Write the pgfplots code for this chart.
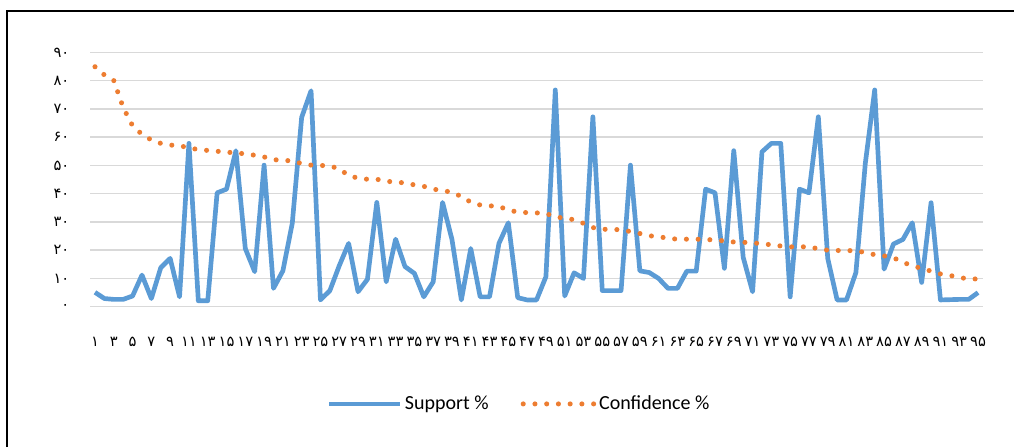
\documentclass[border=0pt]{standalone}
\usepackage{fontspec}
\setmainfont{Carlito}
\newfontfamily\fa[Script=Arabic]{DejaVu Sans}
\usepackage{pgfplots}
\usepackage{pgfplotstable}
\pgfplotsset{compat=1.18}
\definecolor{sblue}{HTML}{5B9BD5}
\definecolor{corange}{HTML}{ED7D31}
\definecolor{gridgray}{HTML}{D9D9D9}

\pgfplotstableread{
i s c
1 5.1 84.9
2 2.9 82
3 2.6 80
4 2.6 70.5
5 3.8 64
6 11.2 61
7 2.9 59
8 13.8 57.8
9 17.1 57.2
10 3.5 57
11 57.8 56.2
12 2.1 55.6
13 2.1 55.3
14 40.3 55
15 41.6 54.7
16 55.2 54.4
17 20.6 54.1
18 12.4 53.6
19 50.1 53
20 6.5 52
21 12.7 51.9
22 29.5 51.5
23 67 50.7
24 76.4 50.1
25 2.4 50
26 5.7 49.8
27 14.5 48.8
28 22.4 46.4
29 5.3 45.5
30 9.7 45.1
31 36.9 45.1
32 8.8 44.4
33 23.9 44.1
34 14.2 43.8
35 11.8 43.1
36 3.5 42.6
37 8.8 41.6
38 36.9 41.1
39 23.8 40.5
40 2.4 39
41 20.6 37
42 3.5 36
43 3.5 35.7
44 22.4 35.5
45 29.7 34.2
46 3.2 33.5
47 2.4 33.3
48 2.4 33.2
49 10.6 33
50 76.7 31.8
51 3.8 31.3
52 12 30.8
53 10 29.5
54 67.2 28
55 5.7 27.4
56 5.7 27.4
57 5.7 27.2
58 50.1 26.6
59 12.7 25.9
60 12.1 25.1
61 10 24.8
62 6.5 24.2
63 6.5 23.9
64 12.6 23.9
65 12.6 23.9
66 41.6 23.8
67 40.3 23.6
68 13.6 23.3
69 55.2 22.9
70 17.5 22.8
71 5.3 22.6
72 54.8 22.3
73 57.8 21.9
74 57.8 21.5
75 3.5 21.2
76 41.6 21.2
77 40.3 21.2
78 67.2 20.5
79 17.1 20
80 2.4 19.9
81 2.4 19.9
82 12.1 19.8
83 50.7 19.2
84 76.7 18.4
85 13.3 18
86 22.2 17.3
87 23.8 15.8
88 29.7 14.4
89 8.6 13.6
90 36.8 12.6
91 2.4 11.6
92 2.5 11.1
93 2.6 10.3
94 2.6 9.9
95 5 9.8
}\datatable

\begin{document}
\begin{tikzpicture}[x=0.75pt,y=0.75pt]
\useasboundingbox (0,0) rectangle (1014,447);
\draw[line width=1.6pt] (7,0) -- (7,436) -- (1014,436);
\begin{axis}[
    at={(67.5pt,105.2pt)}, anchor=south west,
    scale only axis, width=669.75pt, height=190.8pt,
    xmin=0.468, xmax=95.53, ymin=0, ymax=90,
    axis line style={draw=none},
    major tick length=0pt,
    ymajorgrids, grid style={gridgray, line width=1.1pt},
    tick label style={font=\fa\fontsize{11}{13}\selectfont},
    ytick={0,10,...,90},
    yticklabels={۰,۱۰,۲۰,۳۰,۴۰,۵۰,۶۰,۷۰,۸۰,۹۰},
    yticklabel style={xshift=-12pt},
    xtick={1,3,...,95},
    xticklabels={۱,۳,۵,۷,۹,۱۱,۱۳,۱۵,۱۷,۱۹,۲۱,۲۳,۲۵,۲۷,۲۹,۳۱,۳۳,۳۵,۳۷,۳۹,۴۱,۴۳,۴۵,۴۷,۴۹,۵۱,۵۳,۵۵,۵۷,۵۹,۶۱,۶۳,۶۵,۶۷,۶۹,۷۱,۷۳,۷۵,۷۷,۷۹,۸۱,۸۳,۸۵,۸۷,۸۹,۹۱,۹۳,۹۵},
    xticklabel style={yshift=-19pt},
    legend style={at={(0.481,-0.382)}, anchor=center, draw=none,
        font=\fontsize{15}{18}\selectfont,
        /tikz/every even column/.append style={column sep=22pt}},
    legend columns=-1,
    legend image code/.code={\draw[#1] (0pt,0pt) -- (53pt,0pt);},
]
\addplot[sblue, line width=3.5pt, line join=round] table[x=i, y=s] {\datatable};
\addplot[corange, line width=3.8pt, line cap=round, dash pattern=on 0pt off 8.8pt] table[x=i, y=c] {\datatable};
\legend{Support \%, Confidence \%}
\end{axis}
\end{tikzpicture}
\end{document}
